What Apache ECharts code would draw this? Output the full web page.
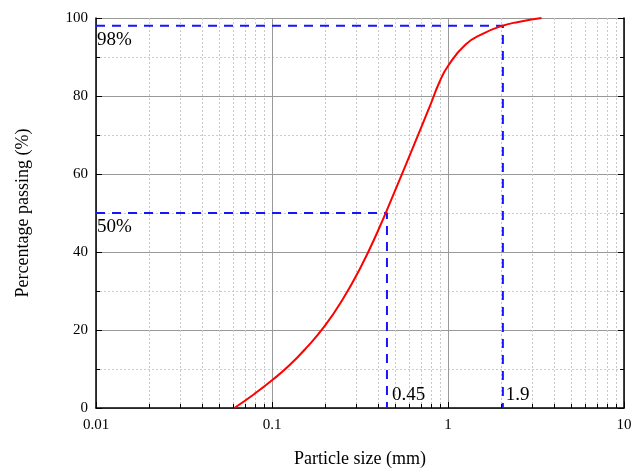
<!DOCTYPE html>
<html>
<head>
<meta charset="utf-8">
<script src="https://cdn.jsdelivr.net/npm/echarts@6/dist/echarts.min.js"></script>
<style>
  html, body { margin: 0; padding: 0; background: #fff; }
  #chart { width: 642px; height: 473px; }
</style>
</head>
<body>
<div id="chart"></div>
<script>
// grading curve
const sizes = [0.0611, 0.0794, 0.1, 0.126, 0.158, 0.2, 0.251, 0.316, 0.398, 0.501, 0.631, 0.794, 0.891, 1.0, 1.259, 1.585, 1.995, 2.512, 3.4]
const passing = [0, 3.6, 7.1, 11.0, 15.6, 21.1, 27.7, 35.7, 45.2, 55.8, 66.7, 77.7, 83.4, 87.7, 93.2, 96.0, 97.9, 99.0, 100]

// dashed guide lines (D98 and D50)
const d98Line = [[0.01, 98], [2.05, 98], [2.05, 0]]
const d50Line = [[0.01, 50], [0.45, 50], [0.45, 0]]

// annotation texts
const notes = [
  { value: [0.01, 98], text: '98%' },
  { value: [0.01, 50], text: '50%' },
  { value: [0.45, 0], text: '0.45' },
  { value: [2.05, 0], text: '1.9' }
]

// minor log ticks on x (2..9 in each decade)
const minorX = []
;[0.01, 0.1, 1].forEach(d => {
  for (let k = 2; k <= 9; k++) minorX.push(+(d * k).toPrecision(3))
})

const font = 'Liberation Serif, Times New Roman, serif'
const chart = echarts.init(document.getElementById('chart'))

const option = {
  animation: false,
  grid: { left: 96, right: 18, top: 18, bottom: 64 },
  xAxis: {
    type: 'log',
    logBase: 10,
    min: 0.01,
    max: 10,
    name: 'Particle size (mm)',
    nameLocation: 'middle',
    nameGap: 42,
    nameTextStyle: { fontFamily: font, fontSize: 18, color: '#000' },
    axisLine: { lineStyle: { color: '#000', width: 1.5 } },
    axisTick: { inside: true, length: 6, lineStyle: { color: '#000' } },
    axisLabel: {
      fontFamily: font, fontSize: 15, color: '#000', margin: 10,
      formatter: v => String(v)
    },
    splitLine: { show: true, lineStyle: { color: '#999', width: 1 } },
    minorTick: { show: false },
    minorSplitLine: { show: false }
  },
  yAxis: [
    {
      type: 'value',
      min: 0,
      max: 100,
      interval: 20,
      name: 'Percentage passing (%)',
      nameLocation: 'middle',
      nameGap: 64,
      nameTextStyle: { fontFamily: font, fontSize: 18, color: '#000' },
      axisLine: { show: true, lineStyle: { color: '#000', width: 1.5 } },
      axisTick: { show: true, inside: true, length: 6, lineStyle: { color: '#000' } },
      minorTick: { show: true, splitNumber: 2, length: 4, lineStyle: { color: '#000' } },
      axisLabel: { fontFamily: font, fontSize: 15, color: '#000', margin: 8 },
      splitLine: { show: true, lineStyle: { color: '#999', width: 1 } },
      minorSplitLine: { show: true, lineStyle: { color: '#ccc', type: [2, 2] } }
    },
    {
      type: 'value',
      min: 0,
      max: 100,
      interval: 20,
      position: 'right',
      axisLine: { show: true, lineStyle: { color: '#000', width: 1.5 } },
      axisTick: { show: true, inside: true, length: 6, lineStyle: { color: '#000' } },
      minorTick: { show: true, splitNumber: 2, length: 4, lineStyle: { color: '#000' } },
      axisLabel: { show: false },
      splitLine: { show: false }
    }
  ],
  series: [
    {
      // minor grid lines and ticks for the log axis
      type: 'custom',
      silent: true,
      z: 1,
      data: minorX.map(v => [v, 0]),
      renderItem: (params, api) => {
        const x = api.value(0)
        const top = api.coord([x, 100])
        const bot = api.coord([x, 0])
        const px = Math.round(top[0]) + 0.5
        return {
          type: 'group',
          children: [
            {
              type: 'line',
              shape: { x1: px, y1: top[1], x2: px, y2: bot[1] },
              style: { stroke: '#c8c8c8', lineWidth: 1, lineDash: [2, 2] }
            },
            {
              type: 'line',
              shape: { x1: px, y1: bot[1], x2: px, y2: bot[1] - 4 },
              style: { stroke: '#000', lineWidth: 1 }
            }
          ]
        }
      }
    },
    {
      type: 'line',
      data: d98Line,
      symbol: 'none',
      silent: true,
      z: 3,
      lineStyle: { color: '#1515ff', width: 2, type: [9, 7] }
    },
    {
      type: 'line',
      data: d50Line,
      symbol: 'none',
      silent: true,
      z: 3,
      lineStyle: { color: '#1515ff', width: 2, type: [9, 7] }
    },
    {
      type: 'line',
      data: sizes.map((s, i) => [s, passing[i]]),
      smooth: 0.5,
      symbol: 'none',
      z: 4,
      lineStyle: { color: '#ff0000', width: 2 }
    },
    {
      type: 'scatter',
      symbolSize: 0,
      silent: true,
      z: 5,
      itemStyle: { opacity: 1 },
      data: notes.map((n, i) => ({
        value: n.value,
        label: {
          show: true,
          formatter: n.text,
          position: i < 2 ? [1, 5] : [i === 2 ? 5 : 3, -22],
          align: 'left',
          verticalAlign: 'top',
          fontFamily: font,
          fontSize: 19,
          color: '#000'
        }
      }))
    }
  ]
}

chart.setOption(option)
</script>
</body>
</html>
